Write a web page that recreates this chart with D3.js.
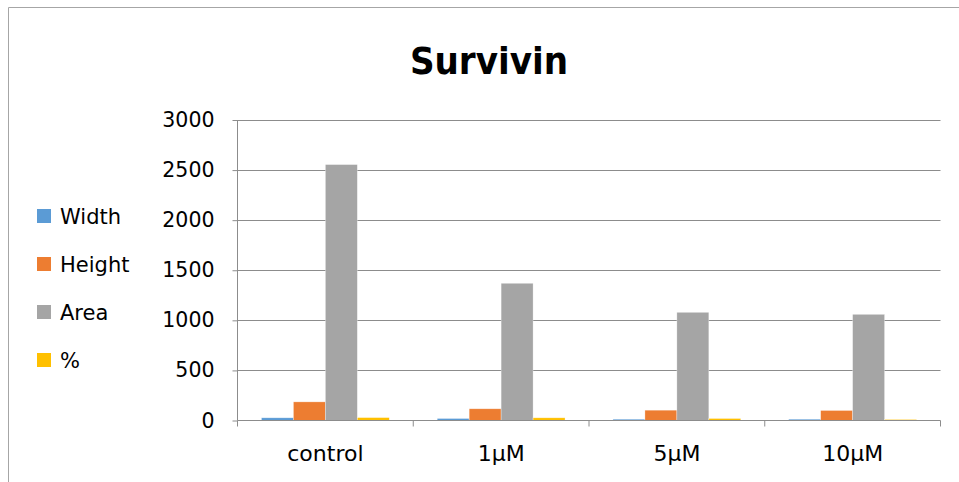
<!DOCTYPE html>
<html><head><meta charset="utf-8">
<script src="https://cdn.jsdelivr.net/npm/d3@7"></script>
<style>html,body{margin:0;padding:0;background:#fff;}svg{display:block;}</style>
</head><body>
<svg id="chart" width="959" height="482"></svg>
<script>
const categories = ["control", "1µM", "5µM", "10µM"];
const seriesNames = ["Width", "Height", "Area", "%"];
const widthValues = [27, 20, 13, 13];
const heightValues = [186, 117, 103, 100];
const areaValues = [2555, 1370, 1080, 1060];
const pctValues = [29, 27, 20, 10];
const yTicks = [0, 500, 1000, 1500, 2000, 2500, 3000];
const colors = ["#5B9BD5", "#ED7D31", "#A5A5A5", "#FFC000"];
const seriesValues = [widthValues, heightValues, areaValues, pctValues];

const svg = d3.select("#chart");
const font = "DejaVu Sans, sans-serif";

// frame
svg.append("path").attr("d", "M8.5,482 L8.5,7.5 L959,7.5").attr("fill", "none").attr("stroke", "#a6a6a6").attr("stroke-width", 1);

// title
const title = svg.append("text").attr("x", 489).attr("y", 74).attr("text-anchor", "middle")
  .attr("font-family", "DejaVu Sans Condensed, DejaVu Sans, sans-serif").attr("font-weight", "bold").attr("font-size", 38).attr("fill", "#000").text("Survivin");
// keep title width close to the reference
const tw = title.node().getComputedTextLength();
if (tw > 162) title.attr("textLength", 158).attr("lengthAdjust", "spacingAndGlyphs");

const pLeft = 237.5, pRight = 940.5, pTop = 120, pBottom = 420.5;
const x0 = d3.scaleBand().domain(categories).range([pLeft, pRight]).paddingInner(0).paddingOuter(0);
const x1 = d3.scaleBand().domain(seriesNames).range([0, x0.bandwidth()]).paddingInner(0).paddingOuter(0.75);
const y = d3.scaleLinear().domain([0, 3000]).range([pBottom, pTop]);

// gridlines
svg.append("g").selectAll("line").data(yTicks.filter(d => d > 0)).join("line")
  .attr("x1", pLeft).attr("x2", pRight).attr("y1", d => Math.round(y(d)) + 0.5).attr("y2", d => Math.round(y(d)) + 0.5)
  .attr("stroke", "#8c8c8c").attr("stroke-width", 1);

// bars
const data = categories.map((c, i) => ({ cat: c, vals: seriesNames.map((s, j) => ({ s, v: seriesValues[j][i], j })) }));
svg.append("g").selectAll("g").data(data).join("g")
  .attr("transform", d => `translate(${x0(d.cat)},0)`)
  .selectAll("rect").data(d => d.vals).join("rect")
  .attr("x", d => x1(d.s)).attr("width", x1.bandwidth())
  .attr("y", d => y(d.v)).attr("height", d => y(0) - y(d.v))
  .attr("fill", d => colors[d.j]).attr("stroke", "#ffffff").attr("stroke-opacity", 0.5).attr("stroke-width", 0.6);

// y axis
const yAxis = d3.axisLeft(y).tickValues(yTicks).tickSize(5).tickPadding(18).tickFormat(d3.format("d"));
const gy = svg.append("g").attr("transform", `translate(${pLeft},0)`).call(yAxis);
gy.select(".domain").attr("d", `M0,${pTop}V${pBottom}`).attr("stroke", "#8c8c8c");
gy.selectAll(".tick line").attr("stroke", "#8c8c8c");
gy.selectAll(".tick text").attr("font-family", font).attr("font-size", 20.5).attr("fill", "#000");

// x axis
const xAxis = d3.axisBottom(x0).tickSize(0).tickPadding(25);
const gx = svg.append("g").attr("transform", `translate(0,${pBottom})`).call(xAxis);
gx.select(".domain").attr("d", `M${pLeft},0H${pRight}`).attr("stroke", "#8c8c8c");
gx.selectAll(".tick text").attr("font-family", font).attr("font-size", 22).attr("fill", "#000");
// category boundary ticks
const bounds = categories.map(c => x0(c)).concat([x0(categories[categories.length - 1]) + x0.bandwidth()]);
gx.append("g").selectAll("line").data(bounds).join("line")
  .attr("x1", d => d).attr("x2", d => d).attr("y1", 0).attr("y2", 6).attr("stroke", "#8c8c8c");

// legend
const lg = svg.append("g").selectAll("g").data(seriesNames).join("g")
  .attr("transform", (d, i) => `translate(37,${216 + i * 48})`);
lg.append("rect").attr("x", 0).attr("y", -7).attr("width", 14).attr("height", 14).attr("fill", (d, i) => colors[i]);
lg.append("text").attr("x", 23).attr("y", 0).attr("dy", "0.36em").attr("font-family", font).attr("font-size", 21).attr("fill", "#000").text(d => d);
</script>
</body></html>
